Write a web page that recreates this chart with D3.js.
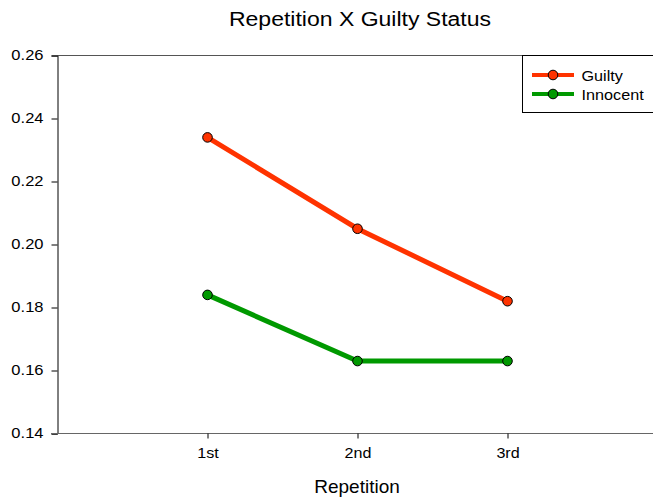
<!DOCTYPE html>
<html><head><meta charset="utf-8">
<script src="https://cdn.jsdelivr.net/npm/d3@7"></script>
<style>body{margin:0;background:#fff}svg{font-family:"Liberation Sans",Arial,sans-serif}</style>
</head><body>
<svg id="c" width="653" height="502"></svg>
<script>
const categories = ["1st", "2nd", "3rd"];
const guilty = [0.234, 0.205, 0.182];
const innocent = [0.184, 0.163, 0.163];
const yTicks = [0.14, 0.16, 0.18, 0.20, 0.22, 0.24, 0.26];
const seriesNames = ["Guilty", "Innocent"];
const colors = ["#ff3300", "#009900"];

const FONT = "Liberation Sans, Arial, sans-serif";
const svg = d3.select("#c");
const x = d3.scaleLinear().domain([0, 4]).range([57.5, 657.5]);
const y = d3.scaleLinear().domain([0.14, 0.26]).range([433.5, 55.5]);

function stretch(sel, k) {
  sel.each(function () {
    const w = this.getComputedTextLength();
    d3.select(this).attr("textLength", w * k).attr("lengthAdjust", "spacingAndGlyphs");
  });
}

// top frame line
svg.append("line").attr("x1", 57.5).attr("x2", 660).attr("y1", 55.5).attr("y2", 55.5).attr("stroke", "#555").attr("stroke-width", 1);

const yAxis = d3.axisLeft(y).tickValues(yTicks).tickFormat(d3.format(".2f")).tickSize(6).tickPadding(8);
const gy = svg.append("g").attr("transform", "translate(57.5,0)").call(yAxis);
gy.attr("font-size", 14).attr("font-family", FONT);
gy.select(".domain").attr("stroke", "#000");
gy.selectAll("text").attr("fill", "#000");
stretch(gy.selectAll("text"), 1.18);

const xAxis = d3.axisBottom(x).tickValues([1, 2, 3]).tickFormat((d) => categories[d - 1]).tickSizeInner(5).tickSizeOuter(0).tickPadding(10);
const gx = svg.append("g").attr("transform", "translate(0,433.5)").call(xAxis);
gx.attr("font-size", 14).attr("font-family", FONT);
gx.select(".domain").attr("stroke", "#666").attr("d", "M51,0H670");
gx.selectAll("text").attr("fill", "#000");
stretch(gx.selectAll("text"), 1.15);

const line = d3.line().x((d, i) => x(i + 1)).y((d) => y(d));
[guilty, innocent].forEach((s, k) => {
  svg.append("path").attr("d", line(s)).attr("fill", "none").attr("stroke", colors[k]).attr("stroke-width", 5);
  svg.selectAll(null).data(s).enter().append("circle")
    .attr("cx", (d, i) => x(i + 1)).attr("cy", (d) => y(d)).attr("r", 4.8)
    .attr("fill", colors[k]).attr("stroke", "#000").attr("stroke-width", 1);
});

// legend
svg.append("rect").attr("x", 522.5).attr("y", 55.5).attr("width", 150).attr("height", 57).attr("fill", "#fff").attr("stroke", "#000").attr("stroke-width", 1);
seriesNames.forEach((n, k) => {
  const ly = 75 + k * 19;
  svg.append("line").attr("x1", 532).attr("x2", 574).attr("y1", ly).attr("y2", ly).attr("stroke", colors[k]).attr("stroke-width", 4);
  svg.append("circle").attr("cx", 553).attr("cy", ly).attr("r", 4.8).attr("fill", colors[k]).attr("stroke", "#000");
  const t = svg.append("text").attr("x", 581.5).attr("y", ly + 5.5).attr("font-size", 15).attr("font-family", FONT).text(n);
  stretch(t, 1.08);
});

const title = svg.append("text").attr("x", 360).attr("y", 25.5).attr("text-anchor", "middle").attr("font-size", 20).attr("font-family", FONT).text("Repetition X Guilty Status");
stretch(title, 1.15);
const xl = svg.append("text").attr("x", 357).attr("y", 492.5).attr("text-anchor", "middle").attr("font-size", 19).attr("font-family", FONT).text("Repetition");
stretch(xl, 1.0);
</script>
</body></html>
